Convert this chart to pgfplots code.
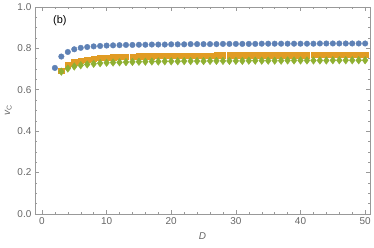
\documentclass[border=0pt]{standalone}
\usepackage{fontspec}
\setmainfont{Liberation Sans}
\usepackage{pgfplots}
\pgfplotsset{compat=1.18}
\definecolor{mblue}{rgb}{0.368417,0.506779,0.709798}
\definecolor{morange}{rgb}{0.880722,0.611041,0.142051}
\definecolor{mgreen}{rgb}{0.560181,0.691569,0.194885}
\definecolor{framegray}{gray}{0.6}
\definecolor{labgray}{gray}{0.4}
\begin{document}
\begin{tikzpicture}[x=1pt,y=1pt]
\path (0,0) rectangle (374,248);
\begin{axis}[
  at={(35pt,34pt)}, anchor=south west,
  scale only axis, width=337pt, height=208pt,
  xmin=-1.1, xmax=50.8, ymin=0, ymax=1,
  xtick={0,10,20,30,40,50},
  ytick={0,0.2,0.4,0.6,0.8,1.0},
  minor xtick={2,4,6,8,12,14,16,18,22,24,26,28,32,34,36,38,42,44,46,48},
  minor ytick={0.05,0.1,0.15,0.25,0.3,0.35,0.45,0.5,0.55,0.65,0.7,0.75,0.85,0.9,0.95},
  yticklabel style={/pgf/number format/.cd, fixed, fixed zerofill, precision=1},
  /pgf/number format/assume math mode=true,
  tick align=inside,
  major tick length=4pt, minor tick length=2pt,
  axis line style={framegray},
  every tick/.style={framegray},
  ticklabel style={font=\fontsize{10}{12}\selectfont, text=labgray},
  xtick pos=both, ytick pos=both,
  xticklabel pos=bottom, yticklabel pos=left,
  xlabel={\textit{D}}, ylabel={\textit{v}\textsubscript{C}},
  label style={font=\fontsize{10}{12}\selectfont, text=labgray},
  xlabel style={yshift=-1pt},
  ylabel style={yshift=-1pt},
  clip=false,
]
\node[anchor=west, font=\fontsize{11}{13}\selectfont] at (axis cs:1.2,0.935) {(b)};
\addplot[only marks, color=mblue, mark=*, mark size=2.8pt, mark options={solid, fill=mblue}] coordinates {
(2,0.705)(3,0.760)(4,0.782)(5,0.795)(6,0.802)(7,0.806)(8,0.809)(9,0.811)(10,0.813)
(11,0.814)(12,0.815)(13,0.816)(14,0.816)(15,0.817)(16,0.817)(17,0.818)(18,0.818)(19,0.818)(20,0.819)
(21,0.819)(22,0.819)(23,0.820)(24,0.820)(25,0.820)(26,0.820)(27,0.820)(28,0.821)(29,0.821)(30,0.821)
(31,0.821)(32,0.821)(33,0.821)(34,0.822)(35,0.822)(36,0.822)(37,0.822)(38,0.822)(39,0.822)(40,0.822)
(41,0.822)(42,0.822)(43,0.823)(44,0.823)(45,0.823)(46,0.823)(47,0.823)(48,0.823)(49,0.823)(50,0.823)
};
\addplot[only marks, color=morange, mark=square*, mark size=2.7pt, mark options={solid, fill=morange}] coordinates {
(3,0.693)(4,0.721)(5,0.733)(6,0.741)(7,0.746)(8,0.750)(9,0.753)(10,0.755)
(11,0.757)(12,0.758)(13,0.759)(14,0.760)(15,0.761)(16,0.762)(17,0.762)(18,0.763)(19,0.763)(20,0.764)
(21,0.764)(22,0.764)(23,0.765)(24,0.765)(25,0.765)(26,0.765)(27,0.766)(28,0.766)(29,0.766)(30,0.766)
(31,0.766)(32,0.766)(33,0.767)(34,0.767)(35,0.767)(36,0.767)(37,0.767)(38,0.767)(39,0.767)(40,0.767)
(41,0.767)(42,0.768)(43,0.768)(44,0.768)(45,0.768)(46,0.768)(47,0.768)(48,0.768)(49,0.768)(50,0.768)
};
\addplot[only marks, color=mgreen, mark=diamond*, mark size=3.8pt, mark options={solid, fill=mgreen}] coordinates {
(3,0.687)(4,0.702)(5,0.712)(6,0.718)(7,0.722)(8,0.725)(9,0.728)(10,0.730)
(11,0.731)(12,0.732)(13,0.733)(14,0.734)(15,0.735)(16,0.735)(17,0.736)(18,0.736)(19,0.737)(20,0.737)
(21,0.737)(22,0.738)(23,0.738)(24,0.738)(25,0.738)(26,0.739)(27,0.739)(28,0.739)(29,0.739)(30,0.739)
(31,0.739)(32,0.740)(33,0.740)(34,0.740)(35,0.740)(36,0.740)(37,0.740)(38,0.741)(39,0.741)(40,0.741)
(41,0.741)(42,0.741)(43,0.741)(44,0.741)(45,0.742)(46,0.742)(47,0.742)(48,0.742)(49,0.742)(50,0.742)
};
\end{axis}
\end{tikzpicture}
\end{document}
